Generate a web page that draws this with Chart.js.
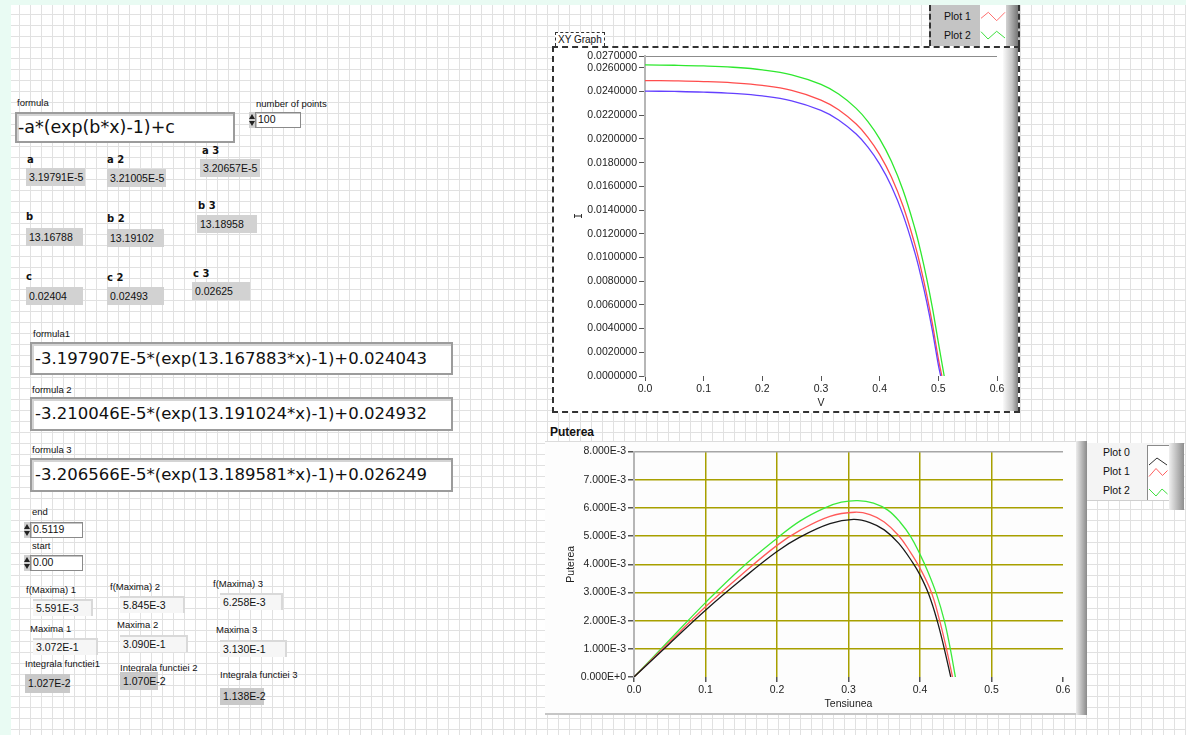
<!DOCTYPE html>
<html lang="ro">
<head>
<meta charset="utf-8">
<title>Panou caracteristica I-V</title>
<script src="https://cdn.jsdelivr.net/npm/chart.js@4.4.1/dist/chart.umd.min.js"></script>
<style>
  html, body { margin: 0; padding: 0; }
  body {
    width: 1186px; height: 735px; overflow: hidden; position: relative;
    font-family: "Liberation Sans", Arial, sans-serif; color: #111;
    background-color: #fff;
    background-image:
      linear-gradient(to right, #e1e1e1 1px, transparent 1px),
      linear-gradient(to bottom, #e1e1e1 1px, transparent 1px);
    background-size: 11px 11px;
    background-position: 8px 3px;
  }
  .mint-top { position: absolute; left: 0; top: 0; width: 1186px; height: 5px; background: #e9fbf3; }
  .mint-left { position: absolute; left: 0; top: 0; width: 11px; height: 735px; background: #e9fbf3; }
  .lbl { position: absolute; font-size: 9.5px; line-height: 11px; white-space: nowrap; }
  .blbl { position: absolute; font-family: "DejaVu Sans", sans-serif; font-weight: bold; font-size: 10px; line-height: 11px; white-space: nowrap; }
  .ind { position: absolute; box-sizing: border-box; background: #d2d2d2; font-size: 10.5px; padding-left: 3px; white-space: nowrap; }
  .ind-light { position: absolute; box-sizing: border-box; background: #f6f6f6; border-top: 2px solid #d9d9d9; border-right: 2px solid #d9d9d9; font-size: 10.5px; padding-left: 3px; white-space: nowrap; }
  .ind-dark { position: absolute; box-sizing: border-box; background: #c9c9c9; font-size: 10.5px; padding-left: 3px; white-space: nowrap; }
  .num { position: absolute; box-sizing: border-box; background: #fff; border: 1px solid #8a8a8a; box-shadow: inset 1px 1px 0 #c4c4c4; font-size: 10.5px; line-height: 13px; padding-left: 2px; }
  .spin { position: absolute; background: #cfcfcf; }
  .str { position: absolute; box-sizing: border-box; background: #fff; border: 2px solid #9c9c9c; box-shadow: inset 2px 2px 0 #d4d4d4; font-family: "DejaVu Sans", sans-serif; font-size: 16.5px; padding-left: 3px; white-space: nowrap; }
  #ivFrame { position: absolute; left: 552px; top: 46px; width: 468px; height: 367px; box-sizing: border-box; border: 2px dashed #333; background: #fff; }
  #ivEdge { position: absolute; left: 1003px; top: 48px; width: 15px; height: 363px; background: linear-gradient(to right, #fafafa, #c9c9c9 60%, #7e7e7e); }
  #ivLabel { position: absolute; left: 555px; top: 32px; height: 14px; padding: 0 2px; box-sizing: border-box; border: 1px dashed #333; border-bottom: none; font-size: 10px; line-height: 13px; background: #fff; }
  #ivLegend { position: absolute; left: 929px; top: 5px; width: 91px; height: 41px; box-sizing: border-box; border-left: 2px dashed #333; border-right: 2px dashed #333; background: #c4c4c4; }
  #ivLegendSw { position: absolute; left: 980px; top: 5px; width: 26px; height: 41px; background: #fff; }
  #ivLegendEdge { position: absolute; left: 1006px; top: 5px; width: 12px; height: 41px; background: linear-gradient(to right, #d4d4d4, #767676); }
  #ivChart { position: absolute; left: 553px; top: 47px; }
  #pTitle { position: absolute; left: 550px; top: 425px; font-weight: bold; font-size: 12px; line-height: 14px; }
  #pFrame { position: absolute; left: 545px; top: 441px; width: 541px; height: 274px; box-sizing: border-box; background: #fdfdfd; border-top: 1px solid #dcdcdc; border-bottom: 2px solid #c6c6c6; }
  #pEdge { position: absolute; left: 1076px; top: 441px; width: 11px; height: 274px; background: linear-gradient(to right, #ececec, #8a8a8a); }
  #pChart { position: absolute; left: 546px; top: 443px; }
  #pLegend { position: absolute; left: 1087px; top: 443px; width: 82px; height: 58px; box-sizing: border-box; background: #f4f4f4; border-bottom: 1px solid #cfcfcf; }
  #pLegendSw { position: absolute; left: 1147px; top: 445px; width: 22px; height: 55px; box-sizing: border-box; background: #fff; border-left: 1px solid #8a8a8a; border-top: 1px solid #8a8a8a; }
  #pLegendEdge { position: absolute; left: 1169px; top: 443px; width: 15px; height: 67px; background: linear-gradient(to right, #efefef, #8e8e8e); }
  .legtxt { position: absolute; font-size: 10.5px; line-height: 11px; white-space: nowrap; }
  .sw { position: absolute; }
</style>
</head>
<body>
<div class="mint-top"></div>
<div class="mint-left"></div>

<!-- formula and coefficients -->
<div class="lbl" style="left:17px;top:97px">formula</div>
<div class="str" style="left:15px;top:112px;width:220px;height:31px;line-height:27px;font-size:17.5px;padding-left:1px">-a*(exp(b*x)-1)+c</div>
<div class="lbl" style="left:256px;top:98px">number of points</div>
<svg class="spin" style="left:249px;top:112px" width="6" height="16"><path d="M0 7 L3 2 L6 7Z M0 9 L3 14 L6 9Z" fill="#222"/></svg>
<div class="num" style="left:255px;top:112px;width:46px;height:16px">100</div>

<div class="blbl" style="left:27px;top:154px">a</div>
<div class="ind" style="left:26px;top:168px;width:59px;height:18px;line-height:18px">3.19791E-5</div>
<div class="blbl" style="left:107px;top:154px">a 2</div>
<div class="ind" style="left:107px;top:169px;width:59px;height:18px;line-height:18px">3.21005E-5</div>
<div class="blbl" style="left:202px;top:145px">a 3</div>
<div class="ind" style="left:200px;top:159px;width:60px;height:18px;line-height:18px">3.20657E-5</div>

<div class="blbl" style="left:26px;top:211px">b</div>
<div class="ind" style="left:26px;top:228px;width:57px;height:18px;line-height:18px">13.16788</div>
<div class="blbl" style="left:107px;top:213px">b 2</div>
<div class="ind" style="left:107px;top:229px;width:57px;height:18px;line-height:18px">13.19102</div>
<div class="blbl" style="left:198px;top:200px">b 3</div>
<div class="ind" style="left:197px;top:215px;width:60px;height:18px;line-height:18px">13.18958</div>

<div class="blbl" style="left:26px;top:271px">c</div>
<div class="ind" style="left:26px;top:287px;width:57px;height:18px;line-height:18px">0.02404</div>
<div class="blbl" style="left:107px;top:272px">c 2</div>
<div class="ind" style="left:107px;top:287px;width:57px;height:18px;line-height:18px">0.02493</div>
<div class="blbl" style="left:193px;top:268px">c 3</div>
<div class="ind" style="left:192px;top:282px;width:58px;height:18px;line-height:18px">0.02625</div>

<div class="lbl" style="left:33px;top:328px">formula1</div>
<div class="str" style="left:30px;top:342px;width:423px;height:33px;line-height:29px">-3.197907E-5*(exp(13.167883*x)-1)+0.024043</div>
<div class="lbl" style="left:32px;top:384px">formula 2</div>
<div class="str" style="left:30px;top:397px;width:423px;height:34px;line-height:30px">-3.210046E-5*(exp(13.191024*x)-1)+0.024932</div>
<div class="lbl" style="left:32px;top:444px">formula 3</div>
<div class="str" style="left:30px;top:458px;width:423px;height:34px;line-height:30px">-3.206566E-5*(exp(13.189581*x)-1)+0.026249</div>

<div class="lbl" style="left:32px;top:506px">end</div>
<svg class="spin" style="left:24px;top:522px" width="6" height="16"><path d="M0 7 L3 2 L6 7Z M0 9 L3 14 L6 9Z" fill="#222"/></svg>
<div class="num" style="left:30px;top:522px;width:53px;height:16px">0.5119</div>
<div class="lbl" style="left:32px;top:540px">start</div>
<svg class="spin" style="left:24px;top:555px" width="6" height="16"><path d="M0 7 L3 2 L6 7Z M0 9 L3 14 L6 9Z" fill="#222"/></svg>
<div class="num" style="left:30px;top:555px;width:53px;height:16px">0.00</div>

<div class="lbl" style="left:26px;top:584px">f(Maxima) 1</div>
<div class="ind-light" style="left:33px;top:599px;width:60px;height:17px;line-height:15px">5.591E-3</div>
<div class="lbl" style="left:110px;top:581px">f(Maxima) 2</div>
<div class="ind-light" style="left:120px;top:596px;width:65px;height:17px;line-height:15px">5.845E-3</div>
<div class="lbl" style="left:213px;top:578px">f(Maxima) 3</div>
<div class="ind-light" style="left:220px;top:593px;width:63px;height:17px;line-height:15px">6.258E-3</div>

<div class="lbl" style="left:30px;top:623px">Maxima 1</div>
<div class="ind-light" style="left:33px;top:638px;width:65px;height:17px;line-height:15px">3.072E-1</div>
<div class="lbl" style="left:117px;top:619px">Maxima 2</div>
<div class="ind-light" style="left:120px;top:635px;width:68px;height:17px;line-height:15px">3.090E-1</div>
<div class="lbl" style="left:216px;top:624px">Maxima 3</div>
<div class="ind-light" style="left:220px;top:640px;width:67px;height:17px;line-height:15px">3.130E-1</div>

<div class="lbl" style="left:25px;top:658px">Integrala functiei1</div>
<div class="ind-dark" style="left:25px;top:674px;width:45px;height:19px;line-height:19px">1.027E-2</div>
<div class="lbl" style="left:120px;top:662px">Integrala functiei 2</div>
<div class="ind-dark" style="left:120px;top:672px;width:38px;height:18px;line-height:18px">1.070E-2</div>
<div class="lbl" style="left:220px;top:669px">Integrala functiei 3</div>
<div class="ind-dark" style="left:220px;top:688px;width:44px;height:17px;line-height:17px">1.138E-2</div>

<!-- XY Graph -->
<div id="ivFrame"></div>
<div id="ivEdge"></div>
<div id="ivLabel">XY Graph</div>
<div id="ivLegend"></div>
<div id="ivLegendSw"></div>
<div id="ivLegendEdge"></div>
<div class="legtxt" style="left:944px;top:11px">Plot 1</div>
<div class="legtxt" style="left:944px;top:30px">Plot 2</div>
<svg class="sw" style="left:980px;top:10px" width="26" height="13"><polyline points="1,8.3 8.3,2.3 16.7,10.7 25,2.3" fill="none" stroke="#ff7070" stroke-width="1"/></svg>
<svg class="sw" style="left:980px;top:29px" width="26" height="13"><polyline points="1,2.7 8,10 16.7,2.3 25,9" fill="none" stroke="#40e040" stroke-width="1"/></svg>
<canvas id="ivChart" width="457" height="365"></canvas>

<!-- Puterea -->
<div id="pTitle">Puterea</div>
<div id="pFrame"></div>
<div id="pEdge"></div>
<canvas id="pChart" width="530" height="271"></canvas>
<div id="pLegend"></div>
<div id="pLegendSw"></div>
<div id="pLegendEdge"></div>
<div class="legtxt" style="left:1103px;top:447px">Plot 0</div>
<div class="legtxt" style="left:1103px;top:466px">Plot 1</div>
<div class="legtxt" style="left:1103px;top:485px">Plot 2</div>
<svg class="sw" style="left:1147px;top:455px" width="22" height="12"><polyline points="2,10 10,3 20,10" fill="none" stroke="#303030" stroke-width="1"/></svg>
<svg class="sw" style="left:1147px;top:466px" width="22" height="12"><polyline points="2,10.5 9,2.5 15.5,9.5 20.5,4.5" fill="none" stroke="#ff6060" stroke-width="1"/></svg>
<svg class="sw" style="left:1147px;top:486px" width="22" height="12"><polyline points="2,3 9,10 15,3 20.5,8" fill="none" stroke="#40e040" stroke-width="1"/></svg>

<script>
// I-V curves of the XY Graph
const ivX = [0, 0.05, 0.1, 0.15, 0.2, 0.25, 0.3, 0.33, 0.36, 0.38, 0.4, 0.42, 0.44, 0.46, 0.47, 0.48, 0.49, 0.5];
const ivEnd = [0.504, 0.506, 0.51]; // where each curve reaches I = 0
const ivPlot0 = [0.02404, 0.02401, 0.023953, 0.023841, 0.023627, 0.023212, 0.02241, 0.021606, 0.020411, 0.019308,
  0.017872, 0.016004, 0.013573, 0.010407, 0.008485, 0.006292, 0.003788, 0.000938, 0];
const ivPlot1 = [0.02493, 0.0249, 0.024842, 0.02473, 0.024513, 0.024094, 0.023283, 0.022467, 0.021256, 0.020138,
  0.018681, 0.016786, 0.014318, 0.011104, 0.009146, 0.006915, 0.004369, 0.001468, 0];
const ivPlot2 = [0.02625, 0.02622, 0.026162, 0.02605, 0.025834, 0.025415, 0.024605, 0.023791, 0.022582, 0.021465,
  0.020012, 0.018118, 0.015654, 0.012449, 0.01049, 0.008261, 0.005728, 0.002829, 0];
const ivYTicks = [0, 0.002, 0.004, 0.006, 0.008, 0.01, 0.012, 0.014, 0.016, 0.018, 0.02, 0.022, 0.024, 0.026, 0.027];
const xTicks = [0, 0.1, 0.2, 0.3, 0.4, 0.5, 0.6];

// power curves (Puterea vs Tensiunea)
const pX0 = [0, 0.05, 0.1, 0.15, 0.2, 0.232, 0.274, 0.307, 0.33, 0.35, 0.37, 0.39, 0.4, 0.412, 0.424, 0.434, 0.443];
const pY0 = [0, 0.00119, 0.00237, 0.00345, 0.00445, 0.00496, 0.00544, 0.005591, 0.00548, 0.00522, 0.00475, 0.00405,
  0.00362, 0.00295, 0.002, 0.001, 0];
const pX1 = [0, 0.05, 0.1, 0.15, 0.2, 0.232, 0.274, 0.309, 0.33, 0.35, 0.37, 0.386, 0.4, 0.416, 0.4275, 0.437, 0.4455];
const pY1 = [0, 0.00125, 0.00249, 0.00362, 0.00467, 0.0052, 0.0057, 0.005845, 0.00576, 0.0055, 0.00502, 0.00445,
  0.00386, 0.003, 0.002, 0.001, 0];
const pX2 = [0, 0.05, 0.1, 0.15, 0.2, 0.232, 0.267, 0.29, 0.313, 0.335, 0.355, 0.372, 0.387, 0.4, 0.41, 0.423, 0.434, 0.442, 0.4495];
const pY2 = [0, 0.00132, 0.00264, 0.00386, 0.00492, 0.00553, 0.006, 0.0062, 0.006258, 0.00617, 0.00592, 0.0055, 0.00498,
  0.00435, 0.0038, 0.00295, 0.002, 0.00105, 0];
const pYTicks = [0, 0.001, 0.002, 0.003, 0.004, 0.005, 0.006, 0.007, 0.008];

const NONE = "rgba(0,0,0,0)";
const OLIVE = "#a8a000";
const near = (a, b) => Math.abs(a - b) < 1e-9;

Chart.defaults.font.family = '"Liberation Sans", Arial, sans-serif';
Chart.defaults.font.size = 10.5;
Chart.defaults.color = "#222";

function curve(label, xs, ys, color) {
  return {
    label,
    data: xs.map((x, i) => ({ x, y: ys[i] })),
    borderColor: color,
    borderWidth: 1.3,
    pointRadius: 0,
    fill: false,
    tension: 0.4,
  };
}

function fixedTicks(list) {
  return (scale) => {
    scale.ticks = list.map((value) => ({ value }));
  };
}

function renderIVChart() {
  new Chart(document.getElementById("ivChart"), {
    type: "line",
    data: {
      datasets: [
        curve("Plot 0", [...ivX, ivEnd[0]], ivPlot0, "#6440ff"),
        curve("Plot 1", [...ivX, ivEnd[1]], ivPlot1, "#ff4d4d"),
        curve("Plot 2", [...ivX, ivEnd[2]], ivPlot2, "#2ee82e"),
      ],
    },
    options: {
      responsive: false,
      animation: false,
      devicePixelRatio: 1,
      layout: { padding: { top: 9, right: 13, left: 0, bottom: 0 } },
      plugins: { legend: { display: false }, tooltip: { enabled: false } },
      scales: {
        x: {
          type: "linear",
          min: 0,
          max: 0.6,
          afterBuildTicks: fixedTicks(xTicks),
          afterFit: (s) => { s.height = 36; },
          border: { display: false },
          grid: { color: NONE, tickColor: "#555", tickLength: 5 },
          ticks: { autoSkip: false, maxRotation: 0, padding: 2, callback: (v) => v.toFixed(1) },
          title: { display: true, text: "V", padding: { top: 0, bottom: 3 } },
        },
        y: {
          type: "linear",
          min: 0,
          max: 0.027,
          afterBuildTicks: fixedTicks(ivYTicks),
          afterFit: (s) => { s.width = 92; },
          border: { display: true, color: "#b6b6b6", width: 2 },
          grid: {
            color: (c) => (c.tick && near(c.tick.value, 0.027) ? "#8c8c8c" : NONE),
            tickColor: "#555",
            tickLength: 6,
          },
          ticks: { autoSkip: false, padding: 2, callback: (v) => v.toFixed(7) },
          title: {
            display: true,
            text: "I",
            font: { family: '"DejaVu Sans Mono", monospace', size: 10 },
            padding: { top: 20, bottom: 0 },
          },
        },
      },
    },
  });
}

function renderPowerChart() {
  new Chart(document.getElementById("pChart"), {
    type: "line",
    data: {
      datasets: [
        curve("Plot 0", pX0, pY0, "#1a1a1a"),
        curve("Plot 1", pX1, pY1, "#ff5a5a"),
        curve("Plot 2", pX2, pY2, "#3bea3b"),
      ],
    },
    options: {
      responsive: false,
      animation: false,
      devicePixelRatio: 1,
      layout: { padding: { top: 8.5, right: 13, left: 0, bottom: 0 } },
      plugins: { legend: { display: false }, tooltip: { enabled: false } },
      scales: {
        x: {
          type: "linear",
          min: 0,
          max: 0.6,
          afterBuildTicks: fixedTicks(xTicks),
          afterFit: (s) => { s.height = 37; },
          border: { display: false },
          grid: {
            color: (c) => (c.tick && (near(c.tick.value, 0) || near(c.tick.value, 0.6)) ? NONE : OLIVE),
            lineWidth: 1.5,
            tickColor: "#555",
            tickLength: 5,
          },
          ticks: { autoSkip: false, maxRotation: 0, padding: 2, callback: (v) => v.toFixed(1) },
          title: { display: true, text: "Tensiunea", padding: { top: 0, bottom: 4 } },
        },
        y: {
          type: "linear",
          min: 0,
          max: 0.008,
          afterBuildTicks: fixedTicks(pYTicks),
          afterFit: (s) => { s.width = 88; },
          border: { display: true, color: "#b6b6b6", width: 2 },
          grid: {
            color: (c) => {
              if (!c.tick || near(c.tick.value, 0)) return NONE;
              return near(c.tick.value, 0.008) ? "#a6a6a6" : OLIVE;
            },
            lineWidth: 1.5,
            tickColor: "#555",
            tickLength: 6,
          },
          ticks: {
            autoSkip: false,
            padding: 2,
            callback: (v) => (v === 0 ? "0.000E+0" : (v * 1000).toFixed(3) + "E-3"),
          },
          title: { display: true, text: "Puterea", padding: { top: 19, bottom: 0 } },
        },
      },
    },
  });
}

renderIVChart();
renderPowerChart();
</script>
</body>
</html>
